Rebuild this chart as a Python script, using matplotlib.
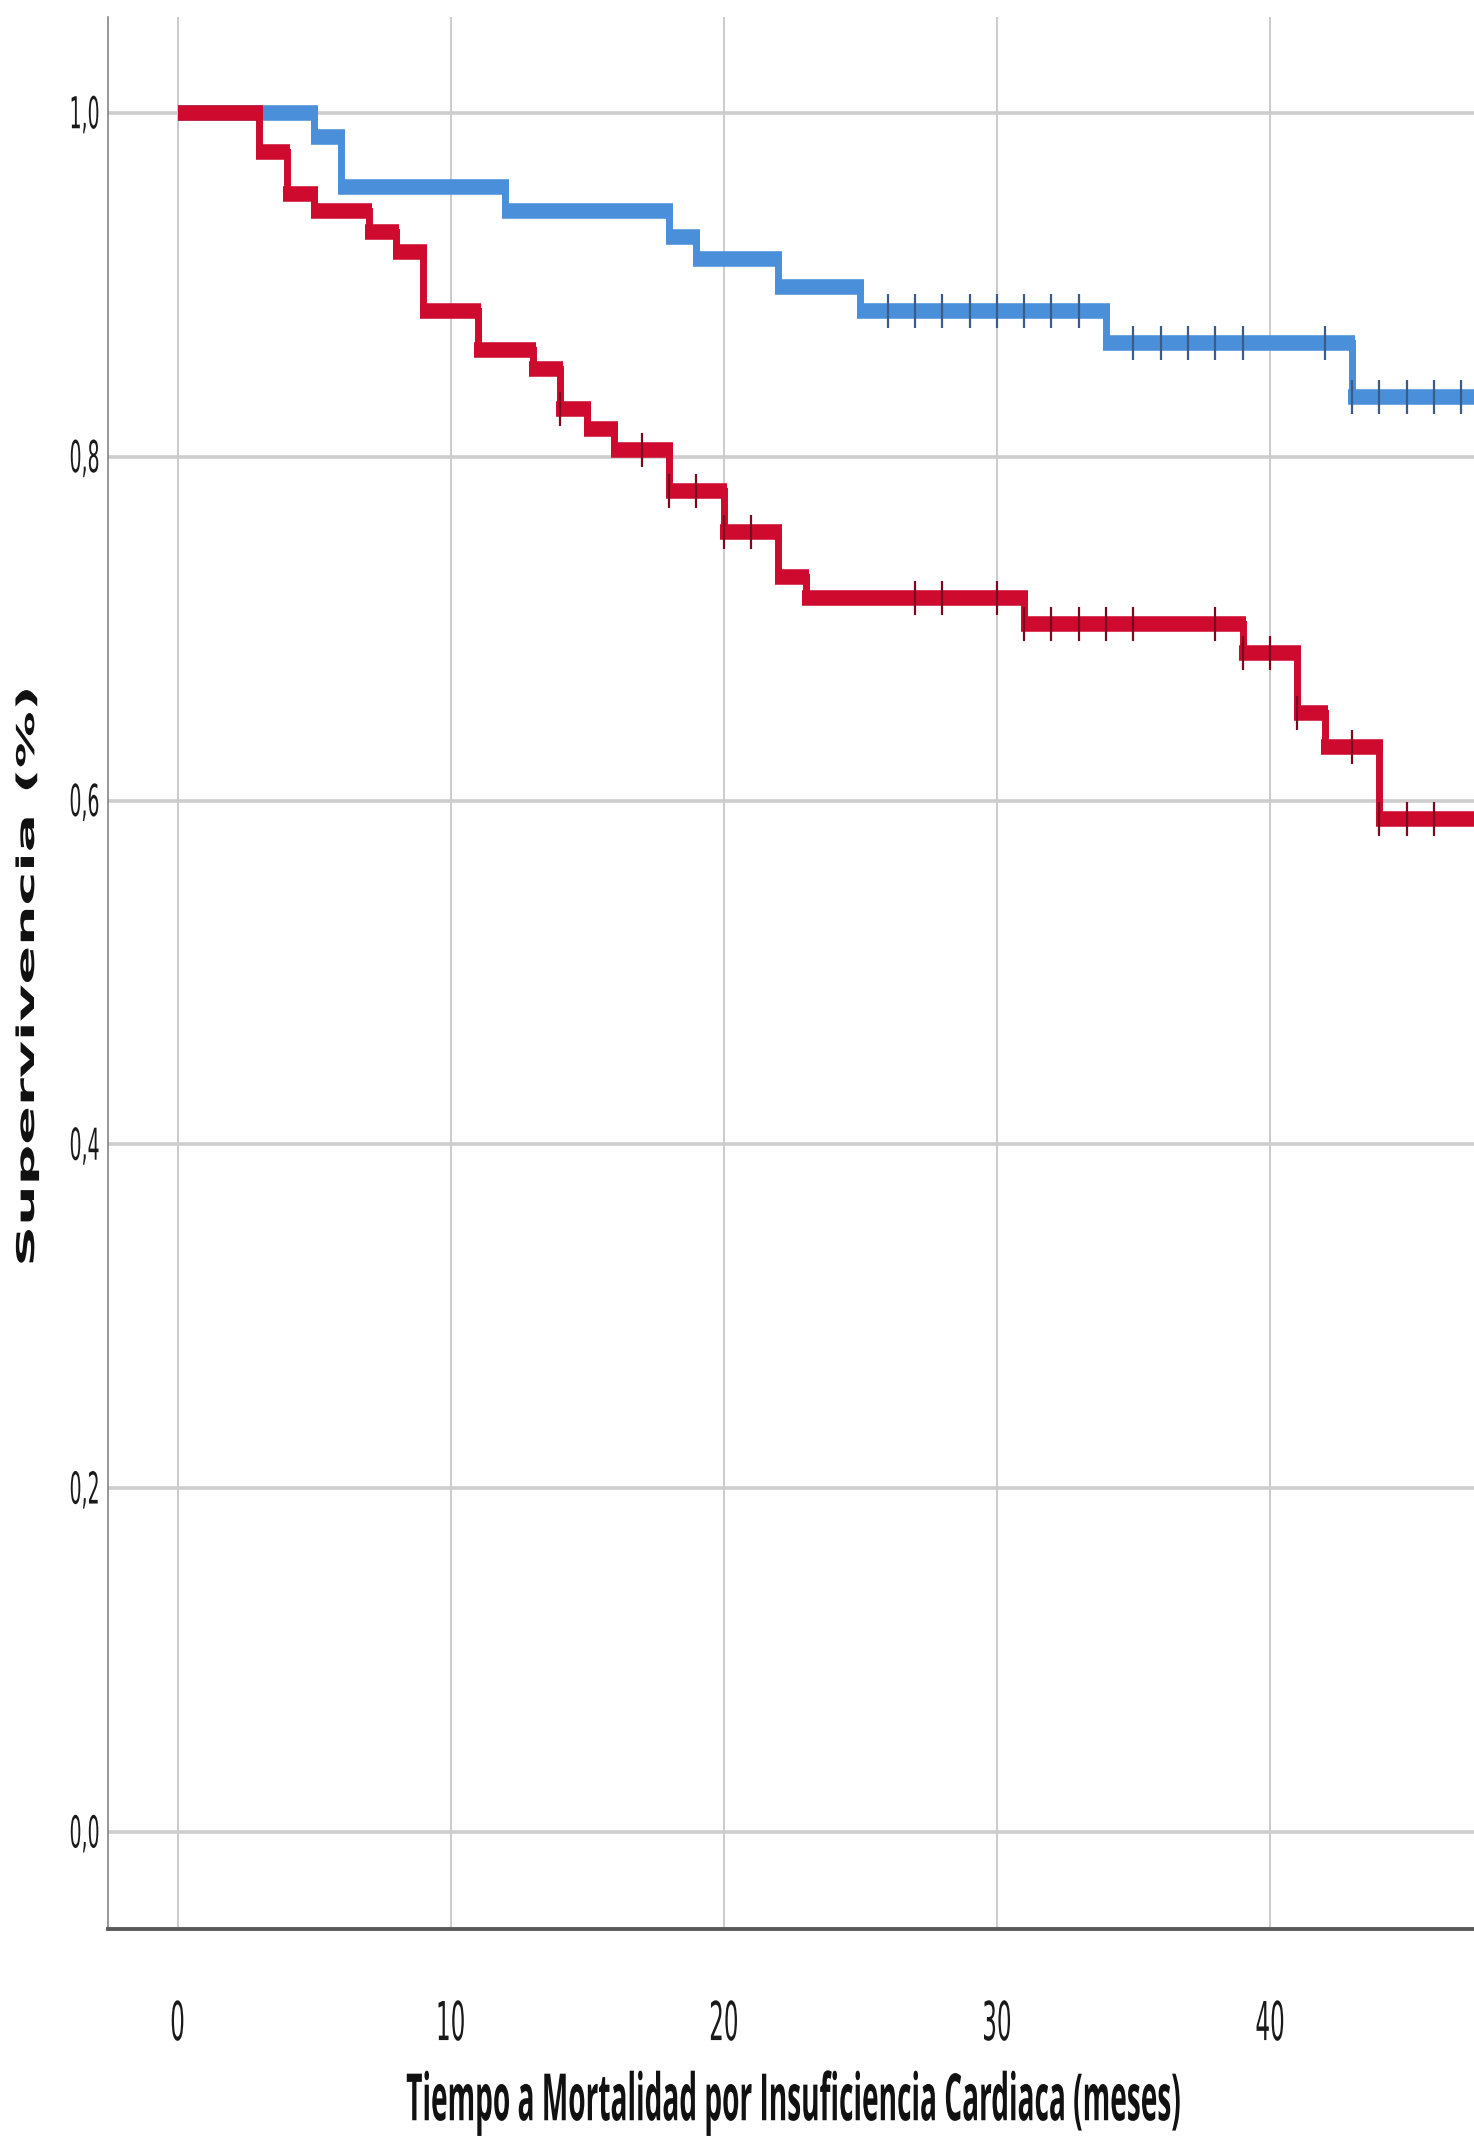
import numpy as np
import matplotlib
matplotlib.use('Agg')
import matplotlib.pyplot as plt
from matplotlib.patheffects import AbstractPathEffect
from matplotlib.transforms import Affine2D

# ---------------- data ----------------
red_times = [0, 3, 4, 5, 7, 8, 9, 11, 13, 14, 15, 16, 18, 20, 22, 23, 31, 39, 41, 42, 44, 48]
red_surv = [1.000, 0.977, 0.953, 0.943, 0.931, 0.919, 0.885, 0.862, 0.851, 0.828, 0.816,
            0.804, 0.780, 0.756, 0.730, 0.718, 0.703, 0.686, 0.651, 0.631, 0.589, 0.589]
red_censored = [14, 17, 18, 19, 20, 21, 27, 28, 30, 31, 32, 33, 34, 35, 38, 39, 40, 41, 43, 44, 45, 46]

blue_times = [0, 5, 6, 12, 18, 19, 22, 25, 34, 43, 48]
blue_surv = [1.000, 0.986, 0.957, 0.943, 0.928, 0.915, 0.899, 0.885, 0.866, 0.835, 0.835]
blue_censored = [26, 27, 28, 29, 30, 31, 32, 33, 35, 36, 37, 38, 39, 42, 43, 44, 45, 46, 47]

x_ticks = [0, 10, 20, 30, 40]
x_tick_labels = ['0', '10', '20', '30', '40']
y_ticks = [0.0, 0.2, 0.4, 0.6, 0.8, 1.0]
y_tick_labels = ['0,0', '0,2', '0,4', '0,6', '0,8', '1,0']
x_label = 'Tiempo a Mortalidad por Insuficiencia Cardiaca (meses)'
y_label = 'Supervivencia (%)'

# ---------------- style ----------------
DPI = 100
W, H = 1474, 2143
RED = '#CE0A2E'
RED_TICK = '#7A0A20'
BLUE = '#4A8FDA'
BLUE_TICK = '#3A5C86'
H_LW = 11.2   # horizontal segment thickness (pt)
V_LW = 5.0    # vertical segment thickness (pt)
K = 1 / 0.43  # vertical stretch of the text (the reference is anisotropically scaled)


class StretchY(AbstractPathEffect):
    """Stretch drawn text vertically around its centre (text stays real text)."""
    def __init__(self, k=K):
        super().__init__()
        self.k = k

    def draw_path(self, renderer, gc, tpath, affine, rgbFace=None):
        ext = tpath.get_extents(affine)
        cy = 0.5 * (ext.y0 + ext.y1)
        st = Affine2D().translate(0, -cy).scale(1.0, self.k).translate(0, cy)
        renderer.draw_path(gc, tpath, affine + st, rgbFace)


fig = plt.figure(figsize=(W / DPI, H / DPI), dpi=DPI)
fig.patch.set_facecolor('white')
ax = fig.add_axes([108 / W, 1 - 1929 / H, 1 - 108 / W, (1929 - 17) / H])
ax.set_xlim(-2.545, 47.47)
ax.set_ylim(-0.0564, 1.0558)
ax.set_facecolor('white')


def draw_km(times, surv, cens, color, tick_color, z):
    t = np.asarray(times, float)
    s = np.asarray(surv, float)
    ax.step(t, s, where='post', color=color, lw=V_LW, solid_capstyle='butt',
            solid_joinstyle='miter', zorder=z)
    p0 = ax.transData.transform((0, 0))[0]
    p1 = ax.transData.transform((1, 0))[0]
    delta = (V_LW * DPI / 72.0 / 2.0) / (p1 - p0)
    idx = np.arange(len(t) - 1)
    left = t[:-1] - np.where(idx > 0, delta, 0.0)
    right = t[1:] + delta
    ax.hlines(s[:-1], left, right, colors=color, lw=H_LW, capstyle='butt', zorder=z)
    c = np.asarray(cens, float)
    ci = np.searchsorted(t, c, side='right') - 1
    ax.plot(c, s[ci], ls='none', marker='|', ms=25, mew=1.6, color=tick_color,
            zorder=z + 0.5)


draw_km(blue_times, blue_surv, blue_censored, BLUE, BLUE_TICK, 3)
draw_km(red_times, red_surv, red_censored, RED, RED_TICK, 4)

# grid
ax.set_axisbelow(True)
ax.yaxis.grid(True, color='#cdcdcd', lw=2.6)
ax.xaxis.grid(True, color='#bdbdbd', lw=1.1)

# spines
for side in ('top', 'right'):
    ax.spines[side].set_visible(False)
ax.spines['left'].set_color('#7a7a7a')
ax.spines['left'].set_linewidth(1.1)
ax.spines['bottom'].set_color('#5a5a5a')
ax.spines['bottom'].set_linewidth(2.8)

# ticks
ax.set_xticks(x_ticks)
ax.set_xticklabels(x_tick_labels, fontsize=16.6, family='DejaVu Sans', color='#1a1a1a')
ax.set_yticks(y_ticks)
ax.set_yticklabels(y_tick_labels, fontsize=13.6, family='DejaVu Sans', color='#1a1a1a')
ax.tick_params(axis='x', length=0, pad=59)
ax.tick_params(axis='y', length=0, pad=6)
for lbl in ax.get_xticklabels() + ax.get_yticklabels():
    lbl.set_path_effects([StretchY()])

# axis titles
fig.text(0.5375, 1 - 2103 / H, x_label, ha='center', va='center', fontsize=20.2,
         family='Open Sans', fontweight='bold', color='#111111',
         path_effects=[StretchY()])
fig.text(27 / W, 1 - 977 / H, y_label, ha='center', va='center', rotation=90,
         fontsize=17.6, family='DejaVu Sans', fontweight='bold', color='#111111',
         path_effects=[StretchY()])

fig.savefig('out.png', dpi=DPI, facecolor='white')
